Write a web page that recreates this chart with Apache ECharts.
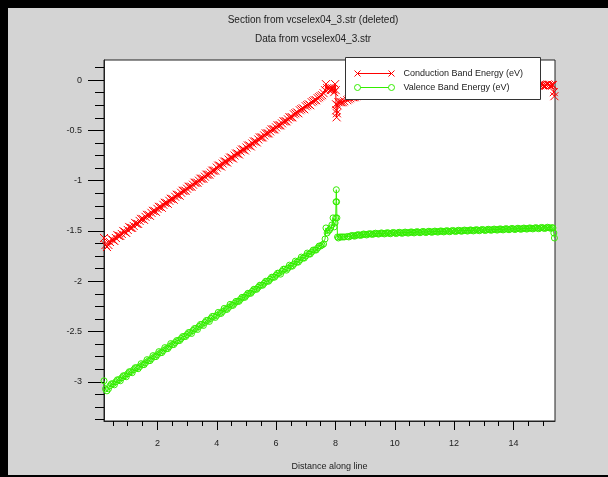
<!DOCTYPE html>
<html>
<head>
<meta charset="utf-8">
<script src="https://cdn.jsdelivr.net/npm/echarts@6/dist/echarts.min.js"></script>
<style>
  html, body { margin: 0; padding: 0; background: #d4d4d4; }
  #chart { width: 608px; height: 477px; }
</style>
</head>
<body>
<div id="chart"></div>
<script>
// Band edges sampled along the cut line (distance in microns, energy in eV)
const distance = [
  0.2, 0.25, 0.3, 0.4, 0.5, 0.6, 0.7, 0.8, 0.9,
  1.0, 1.1, 1.2, 1.3, 1.4, 1.5, 1.6, 1.7, 1.8, 1.9,
  2.0, 2.1, 2.2, 2.3, 2.4, 2.5, 2.6, 2.7, 2.8, 2.9,
  3.0, 3.1, 3.2, 3.3, 3.4, 3.5, 3.6, 3.7, 3.8, 3.9,
  4.0, 4.1, 4.2, 4.3, 4.4, 4.5, 4.6, 4.7, 4.8, 4.9,
  5.0, 5.1, 5.2, 5.3, 5.4, 5.5, 5.6, 5.7, 5.8, 5.9,
  6.0, 6.1, 6.2, 6.3, 6.4, 6.5, 6.6, 6.7, 6.8, 6.9,
  7.0, 7.1, 7.2, 7.3, 7.4, 7.5,
  7.55, 7.6, 7.65, 7.68, 7.72, 7.76, 7.8, 7.84, 7.88, 7.92, 7.96, 7.99,
  8.01, 8.02, 8.03, 8.04, 8.05, 8.07, 8.1, 8.15, 8.2, 8.25, 8.3, 8.4,
  8.5, 8.6, 8.7, 8.8, 8.9,
  9.0, 9.1, 9.2, 9.3, 9.4, 9.5, 9.6, 9.7, 9.8, 9.9,
  10.0, 10.1, 10.2, 10.3, 10.4, 10.5, 10.6, 10.7, 10.8, 10.9,
  11.0, 11.1, 11.2, 11.3, 11.4, 11.5, 11.6, 11.7, 11.8, 11.9,
  12.0, 12.1, 12.2, 12.3, 12.4, 12.5, 12.6, 12.7, 12.8, 12.9,
  13.0, 13.1, 13.2, 13.3, 13.4, 13.5, 13.6, 13.7, 13.8, 13.9,
  14.0, 14.1, 14.2, 14.3, 14.4, 14.5, 14.6, 14.7, 14.8, 14.9,
  15.0, 15.1, 15.2, 15.3, 15.33, 15.36, 15.38
];

const conductionBand = [
  -1.57, -1.64, -1.66, -1.61, -1.59, -1.57, -1.55, -1.53, -1.51,
  -1.49, -1.47, -1.45, -1.43, -1.40, -1.38, -1.36, -1.34, -1.32, -1.30,
  -1.28, -1.26, -1.24, -1.22, -1.20, -1.18, -1.16, -1.14, -1.12, -1.10,
  -1.08, -1.06, -1.04, -1.02, -1.00, -0.98, -0.96, -0.94, -0.92, -0.90,
  -0.87, -0.85, -0.83, -0.81, -0.79, -0.77, -0.75, -0.73, -0.71, -0.69,
  -0.67, -0.65, -0.63, -0.61, -0.59, -0.57, -0.55, -0.53, -0.51, -0.49,
  -0.47, -0.45, -0.43, -0.41, -0.39, -0.37, -0.34, -0.32, -0.30, -0.28,
  -0.26, -0.24, -0.22, -0.20, -0.18, -0.16,
  -0.15, -0.13, -0.10, -0.04, -0.08, -0.09, -0.08, -0.10, -0.08, -0.09, -0.12, -0.04,
  -0.10, -0.24, -0.30, -0.37, -0.33, -0.25, -0.22, -0.22, -0.22, -0.22, -0.21, -0.20,
  -0.18, -0.17, -0.16, -0.15, -0.14,
  -0.130, -0.125, -0.120, -0.115, -0.110, -0.105, -0.104, -0.103, -0.102, -0.101,
  -0.100, -0.099, -0.098, -0.097, -0.096, -0.095, -0.094, -0.093, -0.092, -0.091,
  -0.090, -0.089, -0.088, -0.087, -0.086, -0.085, -0.084, -0.083, -0.082, -0.081,
  -0.080, -0.079, -0.078, -0.077, -0.076, -0.075, -0.074, -0.073, -0.072, -0.071,
  -0.070, -0.069, -0.068, -0.067, -0.066, -0.065, -0.064, -0.063, -0.062, -0.061,
  -0.060, -0.059, -0.058, -0.057, -0.056, -0.055, -0.054, -0.053, -0.052, -0.051,
  -0.050, -0.049, -0.048, -0.047, -0.05, -0.12, -0.16
];

const valenceBand = [
  -2.99, -3.07, -3.09, -3.04, -3.02, -3.00, -2.98, -2.96, -2.94,
  -2.92, -2.90, -2.88, -2.86, -2.85, -2.83, -2.81, -2.79, -2.77, -2.75,
  -2.73, -2.71, -2.69, -2.67, -2.65, -2.63, -2.61, -2.59, -2.57, -2.55,
  -2.53, -2.51, -2.49, -2.47, -2.45, -2.43, -2.41, -2.39, -2.37, -2.35,
  -2.34, -2.32, -2.30, -2.28, -2.26, -2.24, -2.22, -2.20, -2.18, -2.16,
  -2.14, -2.12, -2.10, -2.08, -2.06, -2.04, -2.02, -2.00, -1.98, -1.96,
  -1.94, -1.92, -1.90, -1.88, -1.87, -1.85, -1.83, -1.81, -1.79, -1.77,
  -1.75, -1.73, -1.71, -1.69, -1.67, -1.65,
  -1.64, -1.63, -1.58, -1.47, -1.52, -1.50, -1.49, -1.47, -1.44, -1.37, -1.46, -1.42,
  -1.37, -1.21, -1.09, -1.21, -1.37, -1.56, -1.57, -1.56, -1.56, -1.56, -1.56, -1.555,
  -1.552, -1.548, -1.544, -1.540, -1.537,
  -1.534, -1.532, -1.530, -1.528, -1.527, -1.525, -1.524, -1.523, -1.522, -1.521,
  -1.520, -1.519, -1.518, -1.517, -1.516, -1.515, -1.514, -1.513, -1.512, -1.511,
  -1.510, -1.509, -1.508, -1.507, -1.506, -1.505, -1.504, -1.503, -1.502, -1.501,
  -1.500, -1.499, -1.498, -1.497, -1.496, -1.495, -1.494, -1.493, -1.492, -1.491,
  -1.490, -1.489, -1.488, -1.487, -1.486, -1.485, -1.484, -1.483, -1.482, -1.481,
  -1.480, -1.479, -1.478, -1.477, -1.476, -1.475, -1.474, -1.473, -1.472, -1.471,
  -1.470, -1.469, -1.468, -1.467, -1.47, -1.52, -1.57
];

// Intermediate mesh nodes between the samples above (the band edges scatter slightly)
const distanceMid = [
  0.35, 0.45, 0.55, 0.65, 0.75, 0.85, 0.95,
  1.05, 1.15, 1.25, 1.35, 1.45, 1.55, 1.65, 1.75, 1.85, 1.95,
  2.05, 2.15, 2.25, 2.35, 2.45, 2.55, 2.65, 2.75, 2.85, 2.95,
  3.05, 3.15, 3.25, 3.35, 3.45, 3.55, 3.65, 3.75, 3.85, 3.95,
  4.05, 4.15, 4.25, 4.35, 4.45, 4.55, 4.65, 4.75, 4.85, 4.95,
  5.05, 5.15, 5.25, 5.35, 5.45, 5.55, 5.65, 5.75, 5.85, 5.95,
  6.05, 6.15, 6.25, 6.35, 6.45, 6.55, 6.65, 6.75, 6.85, 6.95,
  7.05, 7.15, 7.25, 7.35, 7.45,
  8.45, 8.55, 8.65, 8.75, 8.85, 8.95,
  9.05, 9.15, 9.25, 9.35, 9.45, 9.55, 9.65, 9.75, 9.85, 9.95,
  10.05, 10.15, 10.25, 10.35, 10.45, 10.55, 10.65, 10.75, 10.85, 10.95,
  11.05, 11.15, 11.25, 11.35, 11.45, 11.55, 11.65, 11.75, 11.85, 11.95,
  12.05, 12.15, 12.25, 12.35, 12.45, 12.55, 12.65, 12.75, 12.85, 12.95,
  13.05, 13.15, 13.25, 13.35, 13.45, 13.55, 13.65, 13.75, 13.85, 13.95,
  14.05, 14.15, 14.25, 14.35, 14.45, 14.55, 14.65, 14.75, 14.85, 14.95,
  15.05, 15.15, 15.25
];

const conductionMid = [
  -1.64, -1.58, -1.60, -1.54, -1.55, -1.50, -1.52,
  -1.46, -1.47, -1.42, -1.43, -1.38, -1.39, -1.34, -1.35, -1.30, -1.31,
  -1.26, -1.27, -1.22, -1.23, -1.18, -1.19, -1.14, -1.15, -1.10, -1.10,
  -1.06, -1.06, -1.02, -1.02, -0.98, -0.98, -0.94, -0.94, -0.90, -0.90,
  -0.85, -0.86, -0.81, -0.82, -0.77, -0.78, -0.73, -0.74, -0.69, -0.70,
  -0.65, -0.66, -0.61, -0.62, -0.57, -0.57, -0.53, -0.53, -0.49, -0.49,
  -0.45, -0.45, -0.41, -0.41, -0.37, -0.37, -0.33, -0.33, -0.29, -0.29,
  -0.25, -0.25, -0.21, -0.20, -0.17,
  -0.19, -0.17, -0.17, -0.15, -0.15, -0.13,
  -0.13, -0.12, -0.12, -0.11, -0.11, -0.10, -0.11, -0.10, -0.11, -0.10,
  -0.106, -0.093, -0.104, -0.091, -0.102, -0.089, -0.100, -0.087, -0.098, -0.085,
  -0.096, -0.083, -0.094, -0.081, -0.092, -0.079, -0.090, -0.077, -0.088, -0.075,
  -0.086, -0.073, -0.084, -0.071, -0.082, -0.069, -0.080, -0.067, -0.078, -0.065,
  -0.076, -0.063, -0.074, -0.061, -0.072, -0.059, -0.070, -0.057, -0.068, -0.055,
  -0.066, -0.053, -0.064, -0.051, -0.062, -0.049, -0.060, -0.047, -0.058, -0.045,
  -0.056, -0.043, -0.054
];

const valenceMid = [
  -3.07, -3.02, -3.03, -2.98, -2.99, -2.94, -2.95,
  -2.90, -2.91, -2.86, -2.87, -2.82, -2.83, -2.78, -2.79, -2.74, -2.75,
  -2.70, -2.71, -2.66, -2.67, -2.62, -2.63, -2.59, -2.59, -2.55, -2.55,
  -2.51, -2.52, -2.47, -2.48, -2.43, -2.44, -2.39, -2.40, -2.35, -2.36,
  -2.31, -2.32, -2.27, -2.28, -2.23, -2.24, -2.20, -2.20, -2.16, -2.16,
  -2.12, -2.12, -2.08, -2.08, -2.04, -2.04, -2.00, -2.00, -1.96, -1.96,
  -1.92, -1.93, -1.88, -1.89, -1.84, -1.85, -1.80, -1.81, -1.76, -1.77,
  -1.72, -1.73, -1.69, -1.69, -1.65,
  -1.560, -1.545, -1.552, -1.537, -1.545, -1.530,
  -1.540, -1.527, -1.535, -1.522, -1.532, -1.519, -1.530, -1.517, -1.528, -1.515,
  -1.526, -1.513, -1.524, -1.511, -1.522, -1.509, -1.520, -1.507, -1.518, -1.505,
  -1.516, -1.503, -1.514, -1.501, -1.512, -1.499, -1.510, -1.497, -1.508, -1.495,
  -1.506, -1.493, -1.504, -1.491, -1.502, -1.489, -1.500, -1.487, -1.498, -1.485,
  -1.496, -1.483, -1.494, -1.481, -1.492, -1.479, -1.490, -1.477, -1.488, -1.475,
  -1.486, -1.473, -1.484, -1.471, -1.482, -1.469, -1.480, -1.467, -1.478, -1.465,
  -1.476, -1.463, -1.474
];

// Axis ticks and labels
const xMajorTicks = [2, 4, 6, 8, 10, 12, 14];
const xMinorTicks = [0.5, 1, 1.5, 2.5, 3, 3.5, 4.5, 5, 5.5, 6.5, 7, 7.5, 8.5, 9, 9.5,
                     10.5, 11, 11.5, 12.5, 13, 13.5, 14.5, 15];
const yMajorTicks = [0, -0.5, -1, -1.5, -2, -2.5, -3];
const yMinorTicks = [0.125, -0.125, -0.25, -0.375, -0.625, -0.75, -0.875, -1.125, -1.25, -1.375,
                     -1.625, -1.75, -1.875, -2.125, -2.25, -2.375, -2.625, -2.75, -2.875,
                     -3.125, -3.25, -3.375];

const titleLines = ['Section from vcselex04_3.str (deleted)', 'Data from vcselex04_3.str'];
const seriesNames = ['Conduction Band Energy (eV)', 'Valence Band Energy (eV)'];
const xAxisTitle = 'Distance along line';

const FONT = '"Liberation Sans", Arial, sans-serif';
const RED = '#ff0000';
const GREEN = '#33ee00';
const INK = '#222222';

const CROSS = 'path://M0,0L10,10M10,0L0,10';
const CROSS_LEGEND = 'path://M3,4L37,4M0,1L6,7M6,1L0,7M34,1L40,7M40,1L34,7';
const RING_LEGEND = 'path://M6,4L34,4M6,4A3,3,0,1,1,0,4A3,3,0,1,1,6,4ZM40,4A3,3,0,1,1,34,4A3,3,0,1,1,40,4Z';

// Merge the main and intermediate nodes into one curve ordered by distance
function bandCurve(vals, midVals) {
  const pts = distance.map((d, i) => [d, vals[i]])
    .concat(distanceMid.map((d, i) => [d, midVals[i]]));
  return pts.sort((a, b) => a[0] - b[0]);
}

const chart = echarts.init(document.getElementById('chart'), null, { renderer: 'canvas' });

const option = {
  animation: false,
  backgroundColor: '#d4d4d4',
  textStyle: { fontFamily: FONT },
  grid: {
    left: 104, top: 60, right: 53, bottom: 56,
    show: true, backgroundColor: '#ffffff', borderColor: INK, borderWidth: 1,
    containLabel: false
  },
  xAxis: [
    {
      type: 'value', min: 0.2, max: 15.4, position: 'bottom',
      name: xAxisTitle, nameLocation: 'middle', nameGap: 41,
      nameTextStyle: { fontSize: 9, color: INK, fontFamily: FONT },
      axisLine: { show: true, onZero: false, lineStyle: { color: INK, width: 1 } },
      axisTick: { show: true, customValues: xMajorTicks, length: 9, lineStyle: { color: '#000', width: 1 } },
      axisLabel: { show: true, customValues: xMajorTicks, margin: 18, fontSize: 9, color: INK, fontFamily: FONT },
      splitLine: { show: false }
    },
    {
      type: 'value', min: 0.2, max: 15.4, position: 'bottom',
      axisLine: { show: false, onZero: false },
      axisTick: { show: true, customValues: xMinorTicks, length: 5, lineStyle: { color: '#000', width: 1 } },
      axisLabel: { show: false },
      splitLine: { show: false }
    }
  ],
  yAxis: [
    {
      type: 'value', min: -3.39, max: 0.2, position: 'left',
      axisLine: { show: true, onZero: false, lineStyle: { color: INK, width: 1 } },
      axisTick: { show: true, customValues: yMajorTicks, length: 16, lineStyle: { color: '#000', width: 1 } },
      axisLabel: { show: true, customValues: yMajorTicks, margin: 22, fontSize: 9, color: INK, fontFamily: FONT },
      splitLine: { show: false }
    },
    {
      type: 'value', min: -3.39, max: 0.2, position: 'left',
      axisLine: { show: false, onZero: false },
      axisTick: { show: true, customValues: yMinorTicks, length: 9, lineStyle: { color: '#000', width: 1 } },
      axisLabel: { show: false },
      splitLine: { show: false }
    }
  ],
  legend: {
    orient: 'vertical',
    left: 354, top: 69,
    padding: 0,
    itemGap: 5,
    itemWidth: 40, itemHeight: 6,
    selectedMode: false,
    z: 10,
    textStyle: { fontSize: 9, color: INK, fontFamily: FONT, padding: [0, 0, 0, 4] },
    data: [
      { name: seriesNames[0], icon: CROSS_LEGEND,
        itemStyle: { color: 'rgba(0,0,0,0)', borderColor: RED, borderWidth: 1 } },
      { name: seriesNames[1], icon: RING_LEGEND,
        itemStyle: { color: 'rgba(0,0,0,0)', borderColor: GREEN, borderWidth: 1 } }
    ]
  },
  graphic: [
    // window frame
    { type: 'rect', silent: true, z: 100, shape: { x: 0, y: 0, width: 608, height: 8 }, style: { fill: '#000' } },
    { type: 'rect', silent: true, z: 100, shape: { x: 0, y: 0, width: 8, height: 477 }, style: { fill: '#000' } },
    { type: 'rect', silent: true, z: 100, shape: { x: 0, y: 475, width: 608, height: 2 }, style: { fill: '#000' } },
    // legend box
    { type: 'rect', silent: true, z: 5, shape: { x: 345.5, y: 57.5, width: 195, height: 42 },
      style: { fill: '#ffffff', stroke: '#333333', lineWidth: 1 } },
    // heading lines
    { type: 'text', silent: true, z: 10, x: 313, y: 20,
      style: { text: titleLines[0], fill: INK, font: '10px ' + FONT, textAlign: 'center', textVerticalAlign: 'middle' } },
    { type: 'text', silent: true, z: 10, x: 313, y: 39,
      style: { text: titleLines[1], fill: INK, font: '10px ' + FONT, textAlign: 'center', textVerticalAlign: 'middle' } }
  ],
  series: [
    {
      name: seriesNames[0],
      type: 'line',
      xAxisIndex: 0, yAxisIndex: 0,
      data: bandCurve(conductionBand, conductionMid),
      symbol: CROSS,
      symbolSize: [8, 8],
      showSymbol: true,
      showAllSymbol: true,
      lineStyle: { color: RED, width: 1 },
      itemStyle: { color: 'rgba(0,0,0,0)', borderColor: RED, borderWidth: 1 },
      emphasis: { disabled: true },
      z: 2
    },
    {
      name: seriesNames[1],
      type: 'line',
      xAxisIndex: 0, yAxisIndex: 0,
      data: bandCurve(valenceBand, valenceMid),
      symbol: 'circle',
      symbolSize: 6,
      showSymbol: true,
      showAllSymbol: true,
      lineStyle: { color: GREEN, width: 1 },
      itemStyle: { color: 'rgba(0,0,0,0)', borderColor: GREEN, borderWidth: 1 },
      emphasis: { disabled: true },
      z: 2
    }
  ]
};

chart.setOption(option);
</script>
</body>
</html>
